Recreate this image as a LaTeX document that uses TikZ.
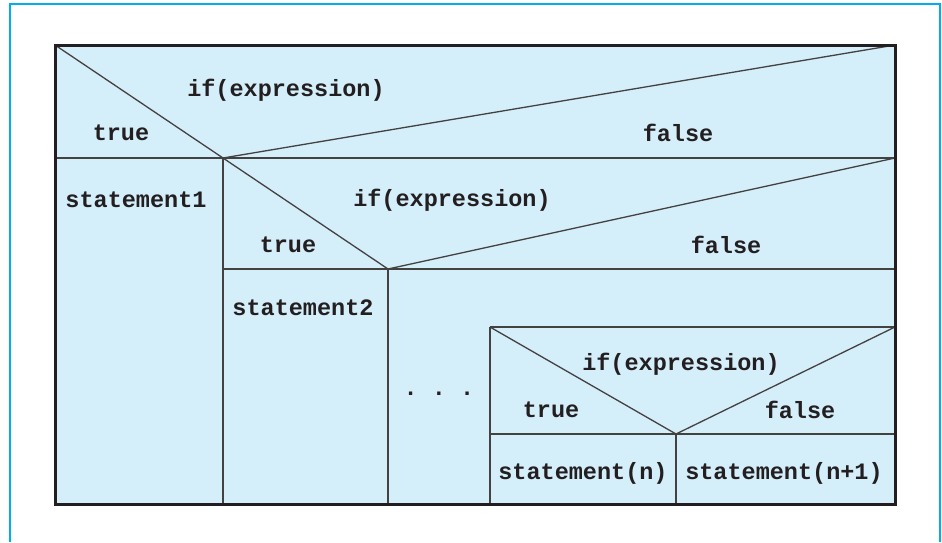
\documentclass[tikz,border=0pt]{standalone}
\usepackage{fontspec}
\setmonofont{Liberation Mono}
\definecolor{cellfill}{RGB}{212,238,250}
\definecolor{framecyan}{RGB}{0,174,239}
\definecolor{ink}{RGB}{35,31,32}
\begin{document}
\begin{tikzpicture}[x=1pt,y=-1pt,
  lbl/.style={font=\fontsize{23.5}{26}\selectfont\ttfamily\bfseries, text=ink, inner sep=0pt, anchor=center},
  thin line/.style={draw=ink!85, line width=1.3pt},
  outer/.style={draw=ink, line width=3pt}]
\useasboundingbox (0,0) rectangle (942,542);
% frame
\draw[framecyan, line width=2.2pt] (10,542) -- (10,4) -- (940,4) -- (940,542);
% corners
\coordinate (TL) at (55,45);
\coordinate (TR) at (895,45);
\coordinate (BL) at (55,504);
\coordinate (BR) at (895,504);
\fill[cellfill] (TL) rectangle (BR);
% level 1
\coordinate (A1) at (55,158);
\coordinate (P1) at (223,158);
\coordinate (R1) at (895,158);
\coordinate (B1) at (223,504);
\draw[thin line] (A1) -- (R1);
\draw[thin line] (TL) -- (P1) -- (TR);
\draw[thin line] (P1) -- (B1);
% level 2
\coordinate (P2) at (388,269);
\coordinate (A2) at (223,269);
\coordinate (R2) at (895,269);
\coordinate (B2) at (388,504);
\draw[thin line] (A2) -- (R2);
\draw[thin line] (P1) -- (P2) -- (R1);
\draw[thin line] (P2) -- (B2);
% level 3
\coordinate (T3L) at (490,327);
\coordinate (T3R) at (895,327);
\coordinate (M3L) at (490,434);
\coordinate (M3R) at (895,434);
\coordinate (P3) at (676,434);
\coordinate (B3L) at (490,504);
\coordinate (B3) at (676,504);
\draw[thin line] (T3L) -- (T3R);
\draw[thin line] (T3L) -- (B3L);
\draw[thin line] (M3L) -- (M3R);
\draw[thin line] (T3L) -- (P3) -- (T3R);
\draw[thin line] (P3) -- (B3);
% outer border
\draw[outer] (TL) rectangle (BR);
% labels
\node[lbl] (if1) at (286,90) {if(expression)};
\node[lbl] (t1) at (121,133) {true};
\node[lbl] (f1) at (678,133) {false};
\node[lbl] (s1) at (136,200) {statement1};
\node[lbl] (if2) at (452,200) {if(expression)};
\node[lbl] (t2) at (288,245) {true};
\node[lbl] (f2) at (726,245) {false};
\node[lbl] (s2) at (303,308) {statement2};
\node[lbl] (dots) at (439,394) {. . .};
\node[lbl] (if3) at (681,364) {if(expression)};
\node[lbl] (t3) at (551,410) {true};
\node[lbl] (f3) at (800,410) {false};
\node[lbl] (sn) at (583,473) {statement(n)};
\node[lbl] (sn1) at (784,473) {statement(n+1)};
\end{tikzpicture}
\end{document}
